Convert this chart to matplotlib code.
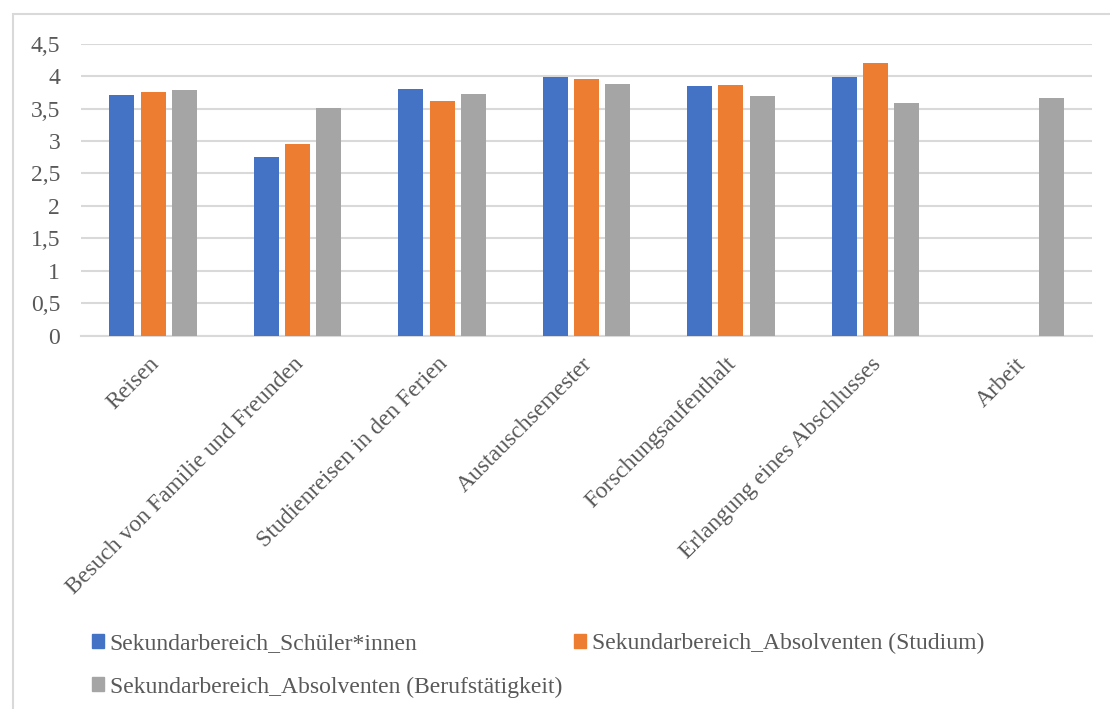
import numpy as np
import matplotlib
matplotlib.use("Agg")
import matplotlib.pyplot as plt
from matplotlib.patches import Rectangle, Patch

# Kategorien und Mittelwerte je Gruppe
categories = ["Reisen", "Besuch von Familie und Freunden", "Studienreisen in den Ferien",
              "Austauschsemester", "Forschungsaufenthalt", "Erlangung eines Abschlusses", "Arbeit"]
schueler = [3.71, 2.75, 3.80, 3.98, 3.84, 3.98, np.nan]
studium = [3.76, 2.95, 3.61, 3.96, 3.87, 4.21, np.nan]
beruf = [3.79, 3.51, 3.73, 3.88, 3.70, 3.58, 3.67]
series_names = ["Sekundarbereich_Schüler*innen",
                "Sekundarbereich_Absolventen (Studium)",
                "Sekundarbereich_Absolventen (Berufstätigkeit)"]
yticks = [0, 0.5, 1, 1.5, 2, 2.5, 3, 3.5, 4, 4.5]

colors = ["#4472c4", "#ed7d31", "#a5a5a5"]
text_color = "#595959"
grid_color = "#d9d9d9"

plt.rcParams['font.family'] = ['Liberation Serif', 'DejaVu Serif']
fs = 17

fig = plt.figure(figsize=(11.1, 7.09), dpi=100)
ax = fig.add_axes([81 / 1110, 1 - 335.5 / 709, 1011 / 1110, 291.8 / 709])

x = np.arange(len(categories))
step = 0.217
width = 0.173
for i, (vals, c) in enumerate(zip([schueler, studium, beruf], colors)):
    ax.bar(x + (i - 1) * step, vals, width, color=c, zorder=3)

ax.set_xlim(-0.5, len(categories) - 0.5)
ax.set_ylim(0, 4.5)
ax.set_yticks(yticks)
ax.set_yticklabels([("%g" % v).replace(".", ",") for v in yticks])
ax.yaxis.grid(True, color=grid_color, linewidth=1.5, zorder=0)
for s in ["top", "right", "left"]:
    ax.spines[s].set_visible(False)
ax.spines["bottom"].set_color(grid_color)
ax.spines["bottom"].set_linewidth(1.5)
ax.tick_params(length=0, labelsize=fs, labelcolor=text_color)
ax.tick_params(axis="y", pad=15)
ax.set_xticks(x - 0.035)
ax.set_xticklabels(categories, rotation=45, ha="right", rotation_mode="anchor")
ax.tick_params(axis="x", pad=13)

# Legende zeilenweise: erste Zeile zwei Einträge, zweite Zeile einer
handles = [Patch(color=c) for c in colors]
order = [0, 2, 1]
leg = fig.legend([handles[i] for i in order], [series_names[i] for i in order],
                 loc="upper left", bbox_to_anchor=(92 / 1110, 1 - 633 / 709),
                 ncol=2, frameon=False, fontsize=fs, labelcolor=text_color,
                 handlelength=0.5, handleheight=0.5, handletextpad=0.25,
                 columnspacing=0.5, labelspacing=0.94, borderpad=0, borderaxespad=0)

# Rahmen des Diagramms
fig.patches.append(Rectangle((13 / 1110, -0.1), 2, 1.1 - 14 / 709, transform=fig.transFigure,
                             fill=False, edgecolor=grid_color, linewidth=1.5))

fig.savefig("out.png", dpi=100)
